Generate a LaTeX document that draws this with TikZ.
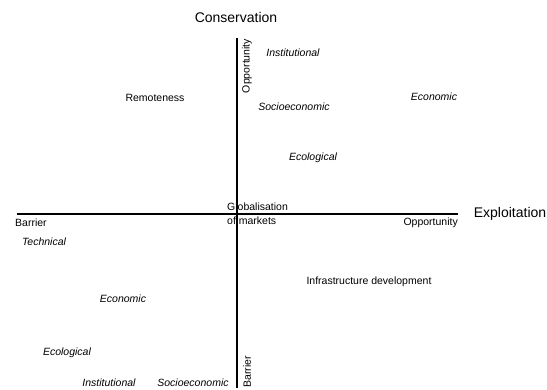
\documentclass[tikz,border=0pt]{standalone}
\usepackage{fontspec}
\setmainfont{Liberation Sans}
\begin{document}
\begin{tikzpicture}[x=1pt, y=-1pt,
    lbl/.style={font=\fontsize{10.5}{14}\selectfont, inner sep=0pt},
    fac/.style={font=\fontsize{10.5}{14}\selectfont\itshape, inner sep=0pt},
    axisname/.style={font=\fontsize{14}{16}\selectfont, inner sep=0pt},
    axisline/.style={line width=1.5pt}]

  \useasboundingbox (0,0) rectangle (547,389);

	%axes
 \coordinate (top) at (237,38);
 \coordinate (bottom) at (237,388);
 \coordinate (left) at (17,214);
 \coordinate (right) at (458,214);
    \draw[axisline] (top) -- (bottom);
    \draw[axisline] (left) -- (right);

 \node[axisname] (cons) at (236,17) {Conservation};
 \node[axisname] (expl) at (510,214) {Exploitation};

	%ends of the axes
 \node[lbl, rotate=90] (oppv) at (247,66) {Opportunity};
 \node[lbl, rotate=90] (barv) at (247,372) {Barrier};
 \node[lbl, anchor=west] (barh) at (15,223) {Barrier};
 \node[lbl, anchor=east] (opph) at (458,223) {Opportunity};

	%drivers
 \node[lbl] (remote) at (155,98) {Remoteness};
 \node[lbl] (infra) at (369,282) {Infrastructure development};
 \node[lbl, align=left, anchor=west] (glob) at (227,214) {Globalisation\\of markets};

	%factors
    \foreach \x/\y/\txt/\name in {293/53/Institutional/instA, 294/107/Socioeconomic/socA,
        434/97/Economic/ecoA, 313/158/Ecological/ecolA, 44/242/Technical/tech,
        123/299/Economic/ecoB, 67/353/Ecological/ecolB, 109/383/Institutional/instB,
        193/383/Socioeconomic/socB}{
         \node[fac] (\name) at (\x,\y) {\txt};
    }

\end{tikzpicture}
\end{document}
